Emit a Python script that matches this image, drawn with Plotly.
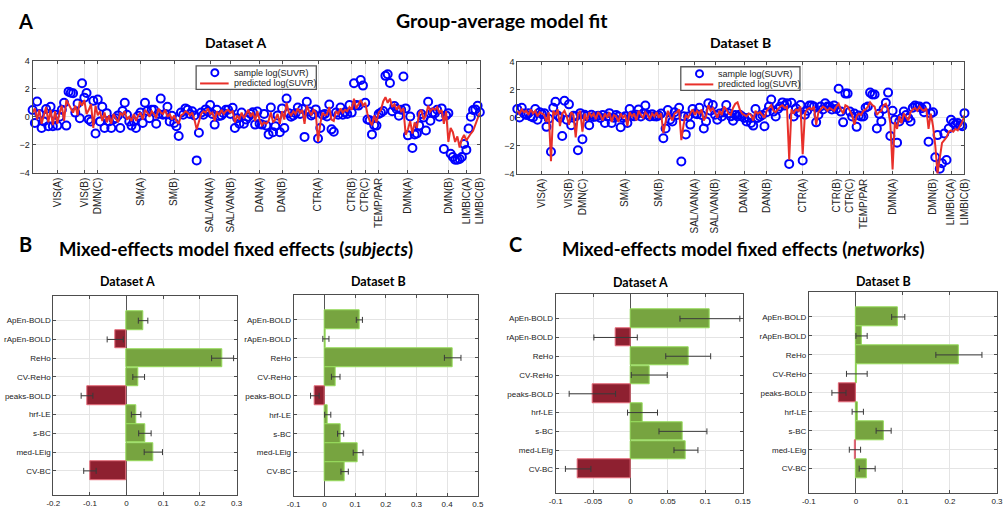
import plotly.graph_objects as go

W, H = 1005, 515

# ---------------- data ----------------
network_ticks = [12, 24, 30, 49, 64, 80, 89, 102, 112, 128, 143, 149, 155, 168, 186, 194, 200]
network_labels = ['VIS(A)', 'VIS(B)', 'DMN(C)', 'SM(A)', 'SM(B)', 'SAL/VAN(A)', 'SAL/VAN(B)',
                  'DAN(A)', 'DAN(B)', 'CTR(A)', 'CTR(B)', 'CTR(C)', 'TEMP/PAR', 'DMN(A)',
                  'DMN(B)', 'LIMBIC(A)', 'LIMBIC(B)']

sample_A = [
    0.49, -0.44, 1.10, 0.20, -0.80, -0.33, 0.56, -0.67, 0.72, -0.67, 0.15, -0.63,
    0.00, 0.50, 1.00, -0.63, 1.80, 1.72, 1.68, 0.30, 0.95, -0.10, 2.40, 1.37, 1.70,
    -0.20, -0.33, 1.14, -1.19, 1.23, -0.33, 0.72, -0.80, 0.26, -0.33, -0.80, -0.20,
    -0.10, 0.10, -0.80, 0.42, 1.00, 0.14, -0.33, -0.63, -0.33, -0.80, 0.07, 0.30,
    -0.44, 1.00, 0.42, -0.10, 0.50, 0.50, -0.50, 0.20, 1.30, 0.14, 0.20, 0.72, -0.33,
    0.07, -0.44, -0.67, -1.37, 0.30, 0.14, 0.60, 0.50, 0.20, 0.40, 0.10, -3.12, -1.14,
    0.30, 0.14, 0.53, 0.37, 0.84, 0.20, -0.56, 0.50, 0.05, 0.10, 0.26, 0.50, 0.50,
    0.20, 0.65, -0.80, -0.10, -0.50, 0.30, -0.50, -0.20, 0.00, 0.20, 0.33, -0.56,
    0.37, -0.50, -0.56, 0.20, -0.63, -1.26, 0.67, -1.10, -0.67, 0.10, -1.10, 0.60,
    -0.80, 1.30, 0.26, 0.00, 0.10, 0.26, 0.67, 0.20, 0.56, -1.44, 1.07, 0.37, 0.10,
    0.19, 0.53, -1.56, -0.80, 0.14, 0.20, 0.02, 0.88, -0.90, -1.07, 0.30, 0.14, 0.67,
    0.14, 0.33, 0.20, 0.84, 0.30, 2.40, 0.84, 0.80, 2.63, 2.23, 1.00, -0.20, -0.25,
    -1.26, -0.60, -0.63, 0.20, 0.30, 0.42, 2.93, 3.05, 2.42, 0.40, 0.77, 0.56, 0.07,
    0.50, 2.88, 0.60, -1.33, 0.02, -2.23, -1.26, -1.19, -0.63, 0.20, -0.05, -0.98,
    1.07, -0.28, 0.30, 0.26, 0.50, 0.00, 0.60, -2.30, 0.10, 0.26, -2.65, -2.88, -3.07,
    -3.07, -3.02, -2.88, -1.95, -2.37, -0.84, 0.00, 0.49, 0.53, 0.79, 0.33,
]

pred_A = [
    0.3, 0.6, -0.2, 0.5, -0.5, 0.2, 0.7, -0.4, 0.5, -0.6, 0.4, -0.5,
    0.3, 0.8, -0.3, 1.2, 0.9, 0.6, 0.3, 0.8, 0.1, 1.1, 0.8, 1.2,
    0.2, 0.5, 0.9, -0.8, 0.8, 0.1,
    0.4, -0.3, 0.3, -0.4, 0.1, -0.5, 0.2, -0.1, -0.4, 0.3, 0.1, 0.4, -0.2, 0.0, -0.3, 0.2, -0.3, 0.1, 0.3,
    -0.2, 0.5, 0.3, 0.0, 0.4, 0.2, -0.1, 0.6, 0.3, 0.2, 0.5, 0.0, 0.2, -0.2, 0.1,
    -0.3, -0.5, 0.1, 0.2, 0.4, 0.3, 0.1, 0.3, -0.2, -0.9, -0.3, 0.2, 0.4, 0.3, 0.6, 0.2,
    0.3, -0.3, 0.4, 0.1, 0.5, 0.2, 0.4, 0.5, 0.3,
    0.4, -0.4, 0.1, -0.2, 0.3, -0.1, 0.2, 0.5, 0.0, 0.3, -0.3, 0.4, -0.2,
    -0.6, -0.4, -0.5, -0.3, 0.3, -0.4, -0.2, 0.2, -0.5, 0.4,
    -0.2, 1.0, 0.3, 0.1, 0.4, 0.2, 0.6, 0.3, 0.5, -0.5, 0.8, 0.4, 0.1, 0.5, 0.3, -1.8,
    -0.5, 0.3, 0.1, 0.2, 0.7, -0.2, -0.3, 0.4, 0.2, 0.6, 0.3, 0.5, 0.4, 0.7, 0.5,
    1.3, 0.6, 0.9, 1.2, 0.8, 1.0, 0.2, -0.3, -0.6, 0.1, -0.4, 0.3,
    0.5, 1.1, 1.4, 1.0, 1.3, 0.7, 0.9, 0.5, 0.8, 0.4, 0.6, -1.3, -0.9,
    -0.3, -1.2, -0.4, -0.8, 0.3, 0.5, -0.2, 0.1, 0.8, 0.4, 0.6, 0.5, 0.7, 0.3, 0.5, -0.5, 0.4, -1.8,
    -0.8, -1.1, -1.8, -1.4, -2.2, -1.6, -1.3, -1.7, -1.4, -1.2, -1.0, -0.6, -0.2, 0.3,
]

sample_B = [
    0.63, 0.02, 0.72, 0.30, 0.20, 0.33, 0.10, 0.02, 0.63, -0.14, 0.40, 0.26,
    0.33, -0.65, -0.07, -2.43, 0.72, 1.15, 0.16, 0.00, -1.31, 1.22, -0.14, 0.96,
    -0.54, 0.14, 0.10, -2.32, 0.33, -1.54, 0.21, 0.10, -0.54, 0.21, 0.05, 0.09,
    0.14, -0.02, 0.20, -0.37, 0.09, 0.33, -0.37, 0.00, 0.20, 0.09, -0.68, 0.00,
    0.10, -0.37, 0.63, 0.16, 0.10, 0.21, 0.60, 0.09, 0.30, 0.87, 0.21, 0.09, 0.26,
    0.10, 0.09, 0.16, 0.30, -1.47, -0.77, 0.56, -0.14, -0.26, 0.40, 0.20, 0.72,
    -3.13, 0.10, -1.19, 0.09, -0.49, 0.63, 0.30, 0.26, 0.72, 0.20, -0.77, -0.26,
    1.03, 0.50, 0.91, 0.21, -0.14, 0.30, 0.09, 0.40, 0.91, 0.33, 0.10, -0.21, 0.20,
    0.09, 0.21, 0.09, -0.02, -0.26, 0.00, -0.37, -0.56, 0.63, -0.02, 0.09, 0.20,
    -0.61, 0.40, 0.80, 1.31, 0.44, 0.09, 0.63, 0.80, 1.10, 0.87, 1.03, -3.30, 1.08,
    0.09, 0.68, 0.40, 0.91, -3.06, 0.21, 0.50, 0.87, 0.87, 0.80, -0.33, 0.21, 0.80,
    0.60, 1.03, 0.80, 0.80, 0.60, 0.87, 0.63, 2.08, 0.44, -0.33, 1.73, 1.73, 0.44,
    0.09, 0.30, -0.65, 0.16, 0.09, 0.09, 0.72, 0.80, 1.80, 1.66, 1.66, -0.77, 0.28,
    -0.26, 0.63, 1.08, 1.80, -1.31, 0.50, -0.14, -1.78, -0.26, -0.02, 0.44, 0.20,
    -0.02, -0.26, 0.72, 0.87, 0.80, 0.80, 0.68, 0.40, 0.80, -1.71, 0.30, 0.40,
    -2.83, -1.24, -3.65, -3.25, -1.12, -3.02, -0.77, -0.14, -0.37, -0.49, -0.37,
    -0.54, -0.60, 0.33,
]

pred_B = [
    0.5, 0.3, 0.6, 0.4, 0.5, 0.2, 0.6, 0.3, 0.5, 0.1, 0.4, 0.3,
    0.2, -0.3, 0.4, -3.1, 0.5, 0.2, 0.6, -0.6, 0.3, 0.5, 0.1, -0.5,
    0.4, 0.2, -1.4, 0.3, 0.5, -1.0,
    0.3, -0.2, 0.4, 0.1, 0.3, -0.1, 0.4, 0.2, -0.2, 0.3, 0.0, 0.4, -0.3, 0.2, 0.1, -0.3, 0.3, 0.0, 0.2,
    -0.6, 0.4, 0.1, 0.3, -0.2, 0.5, 0.2, 0.0, 0.4, 0.2, -0.1, 0.3, 0.1, 0.4, 0.0,
    0.3, -1.1, -0.3, 0.5, 0.1, -0.2, 0.3, 0.4, 0.6, -1.6, -0.5, 0.2, 0.0, 0.3, 0.6, 0.2,
    0.5, 0.3, 0.6, -0.2, 0.1, 0.9, 0.5, 0.7, 0.3,
    0.0, 0.5, 0.2, 0.8, 0.6, 0.3, 0.2, 0.7, 1.0, 1.1, 0.6, 0.3, 0.2,
    0.1, 0.3, 0.2, -0.2, 0.5, 0.3, 0.4, 0.2, 0.0, 0.5,
    0.7, 0.9, 0.5, 0.4, 0.6, 0.8, 0.9, 0.7, 0.8, -3.0, 0.6, 0.3, 0.6, 0.5, 0.8, -2.6,
    0.3, 0.6, 0.7, 0.6, 0.8, -0.5, 0.4, 0.6, 0.8, 0.7, 0.5, 0.7, 0.6, 0.5, 0.8,
    1.0, 0.6, 0.3, 0.9, 0.8, 0.5, 0.2, -0.5, 0.1, 0.3, 0.2, 0.5,
    0.6, 0.8, 1.1, 0.9, 0.8, 0.2, 0.4, 0.5, 0.9, 1.0, 0.6, -0.4, -3.7,
    -0.3, -0.8, 0.1, -0.4, 0.3, 0.0, -0.2, 0.4, 0.6, 0.7, 0.5, 0.8, 0.6, 0.5, 0.7, -0.8, 0.3, -0.6,
    -2.0, -4.0, -3.0, -1.8, -1.6, -1.4, -1.0, -0.9, -1.0, -0.8, -0.9, -0.6, -0.3, 0.2,
]

features = ['ApEn-BOLD', 'rApEn-BOLD', 'ReHo', 'CV-ReHo', 'peaks-BOLD',
            'hrf-LE', 's-BC', 'med-LEig', 'CV-BC']

subj_A_est = [0.045, -0.031, 0.262, 0.033, -0.108, 0.026, 0.050, 0.073, -0.100]
subj_A_err = [0.013, 0.022, 0.030, 0.016, 0.016, 0.013, 0.017, 0.025, 0.017]
subj_B_est = [0.114, 0.005, 0.418, 0.037, -0.031, 0.011, 0.053, 0.110, 0.066]
subj_B_err = [0.010, 0.010, 0.027, 0.014, 0.014, 0.010, 0.010, 0.016, 0.012]
net_A_est = [0.106, -0.020, 0.077, 0.025, -0.051, 0.016, 0.070, 0.074, -0.070]
net_A_err = [0.040, 0.029, 0.030, 0.024, 0.031, 0.020, 0.032, 0.016, 0.017]
net_B_est = [0.090, 0.012, 0.219, 0.002, -0.036, 0.004, 0.059, -0.002, 0.024]
net_B_err = [0.014, 0.012, 0.049, 0.022, 0.015, 0.012, 0.016, 0.012, 0.017]

# ---------------- styling ----------------
TICK_FONT = 'Liberation Sans, Arial, sans-serif'
TITLE_FONT = 'Lato, Open Sans, sans-serif'
GRID = '#e4e4e4'
BOX = '#4d4d4d'
BLUE = '#0000ff'
RED_LINE = '#e8302a'
GREEN, GREEN_EDGE = '#77a440', '#97dc5c'
RED, RED_EDGE = '#8e2030', '#e46a78'

X_RANGE = [1, 200]
Y_RANGE = [-4, 4]


def px(x):
    return x / W


def py(y):
    return 1 - y / H


fig = go.Figure()
shapes = []
annotations = []

# ---------------- top row: group-average model fit ----------------
top_panels = [
    ('x', 'y', sample_A, pred_A, (26, 480), (57, 171), (192, 314, 62, 86)),
    ('x2', 'y2', sample_B, pred_B, (518, 972), (58, 172), (684, 805, 63, 87)),
]
top_axes = {}
for xa, ya, samp, pred, xs, ys, box in top_panels:
    fig.add_trace(go.Scatter(
        x=list(range(1, len(samp) + 1)), y=samp, mode='markers',
        name='sample log(SUVR)', showlegend=False, xaxis=xa, yaxis=ya, cliponaxis=False,
        marker=dict(symbol='circle-open', size=8, color=BLUE, line=dict(width=2, color=BLUE)),
    ))
    fig.add_trace(go.Scatter(
        x=list(range(1, len(pred) + 1)), y=pred, mode='lines',
        name='predicted log(SUVR)', showlegend=False, xaxis=xa, yaxis=ya,
        line=dict(color=RED_LINE, width=2),
    ))

    xkey = 'xaxis' if xa == 'x' else 'xaxis' + xa[1:]
    ykey = 'yaxis' if ya == 'y' else 'yaxis' + ya[1:]
    top_axes[xkey] = dict(
        domain=[px(xs[0]), px(xs[1])], anchor=ya, range=X_RANGE,
        tickvals=network_ticks, ticktext=network_labels, tickangle=-90,
        showgrid=True, gridcolor=GRID, zeroline=False,
        showline=True, linecolor=BOX, mirror='ticks', ticks='inside', ticklen=3,
        tickcolor=BOX, tickfont=dict(family=TICK_FONT, size=10, color='#222'),
    )
    top_axes[ykey] = dict(
        domain=[py(ys[1]), py(ys[0])], anchor=xa, range=Y_RANGE,
        tickvals=[-4, -2, 0, 2, 4], showgrid=True, gridcolor=GRID, zeroline=False,
        showline=True, linecolor=BOX, mirror='ticks', ticks='inside', ticklen=3,
        tickcolor=BOX, tickfont=dict(family=TICK_FONT, size=9, color='#222'),
    )

    # legend frame, placed in the axes' own coordinates (pixel box -> data units)
    bx0, bx1, by0, by1 = box

    def to_x(p, xs=xs):
        return X_RANGE[0] + (p - xs[0]) / (xs[1] - xs[0]) * (X_RANGE[1] - X_RANGE[0])

    def to_y(p, ys=ys):
        return Y_RANGE[1] - (p - ys[0]) / (ys[1] - ys[0]) * (Y_RANGE[1] - Y_RANGE[0])

    shapes.append(dict(type='rect', xref=xa, yref=ya,
                       x0=to_x(bx0), x1=to_x(bx1), y0=to_y(by1), y1=to_y(by0),
                       fillcolor='white', line=dict(color='#555555', width=1.3), layer='above'))

    row1 = by0 + 7
    row2 = by0 + 18
    shapes.append(dict(type='circle', xref='paper', yref='paper',
                       xsizemode='pixel', ysizemode='pixel',
                       xanchor=px(bx0 + 19), yanchor=py(row1),
                       x0=-3.5, x1=3.5, y0=-3.5, y1=3.5,
                       line=dict(color=BLUE, width=2), layer='above'))
    shapes.append(dict(type='line', xref='paper', yref='paper',
                       x0=px(bx0 + 4), x1=px(bx0 + 33), y0=py(row2), y1=py(row2),
                       line=dict(color=RED_LINE, width=2), layer='above'))
    for row, label in ((row1, 'sample log(SUVR)'), (row2, 'predicted log(SUVR)')):
        annotations.append(dict(x=px(bx0 + 36), y=py(row), xref='paper', yref='paper',
                                text=label, showarrow=False, xanchor='left', yanchor='middle',
                                font=dict(family=TICK_FONT, size=9, color='#222')))

# ---------------- bottom row: fixed-effect estimates ----------------
bar_panels = [
    ('x3', 'y3', subj_A_est, subj_A_err, (47, 233), (297, 500), [-0.2, 0.3], [-0.2, -0.1, 0, 0.1, 0.2, 0.3]),
    ('x4', 'y4', subj_B_est, subj_B_err, (291, 478), (296, 501), [-0.1, 0.5], [-0.1, 0, 0.1, 0.2, 0.3, 0.4, 0.5]),
    ('x5', 'y5', net_A_est, net_A_err, (557, 747), (295, 498), [-0.1, 0.15], [-0.1, -0.05, 0, 0.05, 0.1, 0.15]),
    ('x6', 'y6', net_B_est, net_B_err, (814, 1005), (293, 498), [-0.1, 0.3], [-0.1, 0, 0.1, 0.2, 0.3]),
]
positions = list(range(1, len(features) + 1))
bar_axes = {}
for xa, ya, est, err, xs, ys, xr, xt in bar_panels:
    fig.add_trace(go.Bar(
        x=est, y=positions, orientation='h', width=0.98, showlegend=False,
        xaxis=xa, yaxis=ya,
        marker=dict(color=[GREEN if v >= 0 else RED for v in est],
                    line=dict(color=[GREEN_EDGE if v >= 0 else RED_EDGE for v in est], width=1)),
        error_x=dict(type='data', array=err, color='#3a3a3a', thickness=1, width=3),
    ))
    bar_axes['xaxis' + xa[1:]] = dict(
        domain=[px(xs[0]), px(xs[1])], anchor=ya, range=xr, tickvals=xt,
        ticktext=[('%g' % v) for v in xt],
        showgrid=True, gridcolor=GRID, zeroline=True, zerolinecolor='#555', zerolinewidth=1,
        showline=True, linecolor=BOX, mirror='ticks', ticks='inside', ticklen=3, tickcolor=BOX,
        tickfont=dict(family=TICK_FONT, size=8, color='#222'),
    )
    bar_axes['yaxis' + ya[1:]] = dict(
        domain=[py(ys[1]), py(ys[0])], anchor=xa, range=[10.3, -0.3],
        tickvals=positions, ticktext=features,
        showgrid=True, gridcolor=GRID, zeroline=False,
        showline=True, linecolor=BOX, mirror='ticks', ticks='inside', ticklen=3, tickcolor=BOX,
        tickfont=dict(family=TICK_FONT, size=8, color='#222'),
    )


# ---------------- titles and panel letters ----------------
def text(x, y, s, size, family=TITLE_FONT):
    return dict(x=px(x), y=py(y), xref='paper', yref='paper', text=s, showarrow=False,
                xanchor='center', yanchor='middle',
                font=dict(family=family, size=size, color='black'))


annotations += [
    text(19, 16, '<b>A</b>', 20),
    text(502, 16, '<b>Group-average model fit</b>', 19.5),
    text(232, 38, '<b>Dataset A</b>', 14),
    text(745, 38, '<b>Dataset B</b>', 14),
    text(19, 244, '<b>B</b>', 20),
    text(232, 249, '<b>Mixed-effects model fixed effects (<i>subjects</i>)</b>', 18.5),
    text(122, 282, '<b>Dataset A</b>', 12.5),
    text(377, 282, '<b>Dataset B</b>', 12.5),
    text(516, 244, '<b>C</b>', 20),
    text(748, 249, '<b>Mixed-effects model fixed effects (<i>networks</i>)</b>', 18.5),
    text(643, 283, '<b>Dataset A</b>', 12.5),
    text(890, 282, '<b>Dataset B</b>', 12.5),
]

fig.update_layout(
    width=W, height=H, margin=dict(l=0, r=0, t=0, b=0),
    paper_bgcolor='white', plot_bgcolor='white',
    annotations=annotations, shapes=shapes, showlegend=False,
    bargap=0,
    **top_axes, **bar_axes,
)

fig.write_html('out.html')
